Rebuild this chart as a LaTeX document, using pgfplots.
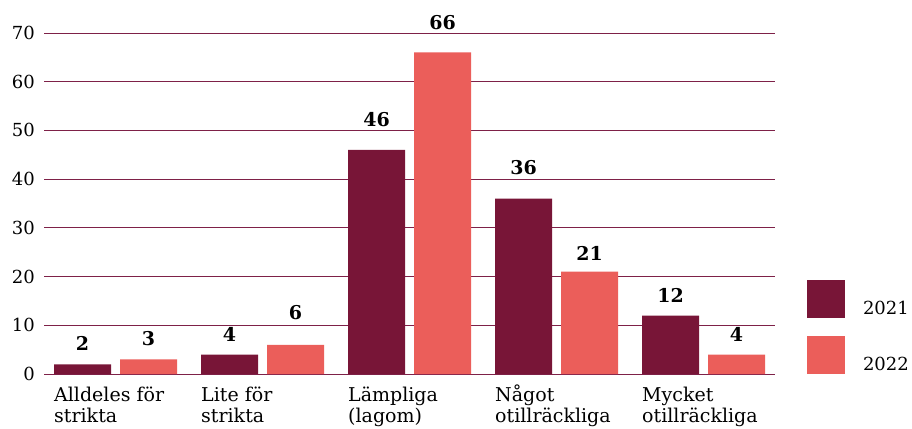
\documentclass[border=0pt]{standalone}
\usepackage{fontspec}
\setmainfont{DejaVu Serif}
\usepackage{pgfplots}
\pgfplotsset{compat=1.18}
\definecolor{c21}{HTML}{781537}
\definecolor{c22}{HTML}{EB5E5A}
\definecolor{gridc}{HTML}{7E2148}
\pgfplotsset{sqleg/.style={legend image code/.code={\fill[##1] (0bp,-9bp) rectangle (38bp,29bp);}}}
\newcommand{\tp}{\vphantom{Å}}
\begin{document}
\begin{tikzpicture}
\begin{axis}[
  scale only axis, width=731bp, height=341bp,
  xmin=-0.4864, xmax=4.4864, ymin=0, ymax=70,
  ytick={0,10,...,70}, xtick={0,1,2,3,4},
  xticklabels={{\tp Alldeles för\\strikta},{\tp Lite för\\strikta},{\tp Lämpliga\\(lagom)},{\tp Något\\otillräckliga},{\tp Mycket\\otillräckliga}},
  major tick length=0pt,
  axis line style={draw=none},
  ymajorgrids, grid style={gridc, line width=0.9bp},
  clip=false,
  /pgf/number format/assume math mode=true,
  yticklabel style={font=\fontsize{18bp}{22bp}\selectfont, anchor=east, inner sep=0pt, xshift=-9bp},
  xticklabel style={font=\fontsize{19bp}{21bp}\selectfont, anchor=north west, align=left, inner sep=0pt, xshift=-61.5bp, yshift=-10bp},
  legend style={at={(rel axis cs:1,0)}, anchor=south west, xshift=32bp, draw=none, fill=none, inner sep=0pt, outer sep=0pt,
    font=\fontsize{18bp}{22bp}\selectfont, row sep=18bp, nodes={inner sep=0pt},
    /tikz/every odd column/.style={column sep=18bp}},
  legend cell align=left,
]
\addplot[ybar, bar width=57bp, bar shift=-33bp, fill=c21, draw=none, sqleg] coordinates {(0,2) (1,4) (2,46) (3,36) (4,12)};
\addlegendentry{2021}
\addplot[ybar, bar width=57bp, bar shift=33bp, fill=c22, draw=none, sqleg] coordinates {(0,3) (1,6) (2,66) (3,21) (4,4)};
\addlegendentry{2022}
\addplot[forget plot, draw=none, mark=none, nodes near coords, point meta=explicit symbolic,
  every node near coord/.append style={anchor=center, inner sep=0pt, font=\fontsize{19bp}{22bp}\selectfont\bfseries}]
  coordinates {(-0.2245,6.2)[2] (0.7755,8.2)[4] (1.7755,52.2)[46] (2.7755,42.3)[36] (3.7755,16.2)[12]};
\addplot[forget plot, draw=none, mark=none, nodes near coords, point meta=explicit symbolic,
  every node near coord/.append style={anchor=center, inner sep=0pt, font=\fontsize{19bp}{22bp}\selectfont\bfseries}]
  coordinates {(0.2245,7.3)[3] (1.2245,12.6)[6] (2.2245,72.2)[66] (3.2245,24.8)[21] (4.2245,8.2)[4]};
\coordinate (sw) at (rel axis cs:0,0);
\coordinate (ne) at (rel axis cs:1,1);
\end{axis}
\pgfresetboundingbox
\path ([shift={(-44bp,-55bp)}]sw) rectangle ([shift={(137bp,33bp)}]ne);
\end{tikzpicture}
\end{document}
